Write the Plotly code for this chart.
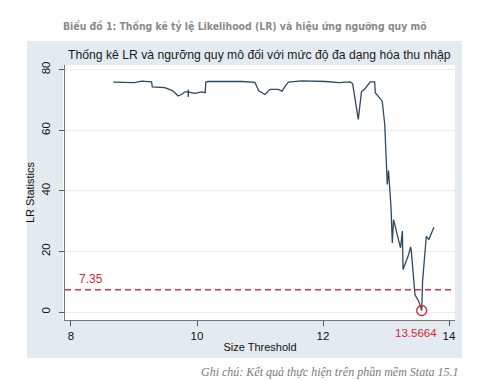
import plotly.graph_objects as go

threshold_x = [8.67, 8.85, 9.01, 9.12, 9.28, 9.29, 9.40, 9.49, 9.55, 9.60, 9.65, 9.70, 9.76,
               9.81, 9.855, 9.86, 9.862, 9.865, 9.97, 10.07, 10.13, 10.14, 10.18, 10.45,
               10.71, 10.92, 10.98, 11.08, 11.16, 11.29, 11.35, 11.40, 11.45, 11.66, 12.04,
               12.25, 12.43, 12.47, 12.56, 12.61, 12.67, 12.75, 12.82, 12.83, 12.91, 12.94,
               12.98, 13.02, 13.04, 13.08, 13.10, 13.12, 13.23, 13.26, 13.27, 13.36, 13.39,
               13.40, 13.46, 13.52, 13.5664, 13.58, 13.64, 13.68, 13.76]
lr_stat = [75.9, 75.8, 75.7, 76.2, 76.0, 74.3, 74.2, 74.1, 73.6, 73.2, 72.4, 71.3, 71.9,
           72.7, 72.7, 73.4, 71.0, 72.6, 72.2, 72.7, 72.4, 75.9, 76.1, 76.2,
           76.1, 75.8, 73.0, 71.8, 73.5, 73.5, 72.9, 74.6, 75.9, 76.3, 76.1,
           75.7, 76.0, 75.4, 63.6, 72.7, 73.8, 76.0, 76.0, 72.4, 70.5, 69.6,
           61.9, 42.1, 46.7, 34.4, 22.8, 30.5, 21.2, 26.7, 14.0, 19.0, 21.5,
           20.6, 5.7, 3.5, 0.5, 10.1, 25.0, 23.9, 28.0]

critical_value = 7.35
min_x = [13.5664]
min_y = [0.5]
x_ticks = [8, 10, 12, 14]
y_ticks = [0, 20, 40, 60, 80]

main_title = "Biểu đồ 1: Thống kê tỷ lệ Likelihood (LR) và hiệu ứng ngưỡng quy mô"
chart_title = "Thống kê LR và ngưỡng quy mô đối với mức độ đa dạng hóa thu nhập"
note = "Ghi chú: Kết quả thực hiện trên phần mềm Stata 15.1"

W, H = 499, 380
L, R, T, B = 57, 447, 57, 312  # plot area in pixels
PW, PH = R - L, B - T


def px(x):
    return (x - L) / PW


def py(y):
    return (B - y) / PH


RED = "#d22a3a"
DASH = "#c4375a"
LINE = "#2f4860"
PANEL = "#e4ebf0"
FONT = "Liberation Sans, Arial"

fig = go.Figure()
fig.add_trace(go.Scatter(x=threshold_x, y=lr_stat, mode="lines",
                         line=dict(color=LINE, width=1.3), hoverinfo="skip", showlegend=False))
fig.add_trace(go.Scatter(x=min_x, y=min_y, mode="markers",
                         marker=dict(symbol="circle-open", size=10, color=RED, line=dict(width=1.3, color=RED)),
                         showlegend=False))
fig.add_hline(y=critical_value, line=dict(color=DASH, width=1.5, dash="6px,4px"))

# grey graph panel, then white plot region
fig.add_shape(type="rect", xref="paper", yref="paper",
              x0=px(19), x1=px(454), y0=py(350), y1=py(33),
              fillcolor=PANEL, line=dict(width=0), layer="below")
fig.add_shape(type="rect", xref="paper", yref="paper",
              x0=px(55), x1=px(447), y0=py(312), y1=py(57),
              fillcolor="white", line=dict(width=0), layer="below")

fig.add_annotation(x=8.1, y=critical_value, text="7.35", showarrow=False,
                   xanchor="left", yanchor="bottom", yshift=2,
                   font=dict(family=FONT, size=12, color=RED))
fig.add_annotation(x=min_x[0], y=0, yref="paper", text="13.5664", showarrow=False,
                   xanchor="center", yanchor="top", xshift=-6, yshift=-5,
                   font=dict(family=FONT, size=11.5, color=RED))

fig.add_annotation(xref="paper", yref="paper", x=px(53), y=py(18), text=main_title,
                   showarrow=False, xanchor="left", yanchor="middle",
                   font=dict(family="Liberation Sans Narrow, DejaVu Sans Condensed, Roboto Condensed, Liberation Sans",
                             size=10.4, color="#8a8a8a", weight="bold"))
fig.add_annotation(xref="paper", yref="paper", x=px(251), y=py(47), text=chart_title,
                   showarrow=False, xanchor="center", yanchor="middle",
                   font=dict(family=FONT, size=12.2, color="#1a1a1a"))
fig.add_annotation(xref="paper", yref="paper", x=px(453), y=py(364), text=f"<i>{note}</i>",
                   showarrow=False, xanchor="right", yanchor="middle",
                   font=dict(family="Liberation Serif, Times New Roman", size=12, color="#7a7a7a"))

fig.update_layout(
    width=W, height=H,
    margin=dict(l=L, r=W - R, t=T, b=H - B),
    paper_bgcolor="white", plot_bgcolor="white",
    showlegend=False,
    xaxis=dict(range=[7.905, 14.095], tickvals=x_ticks, ticks="outside", ticklen=5,
               tickcolor="#555", showline=True, linecolor="#777", linewidth=1,
               showgrid=False, zeroline=False,
               tickfont=dict(family=FONT, size=11.5, color="#111"),
               title=dict(text="Size Threshold", standoff=2,
                          font=dict(family=FONT, size=11, color="#111"))),
    yaxis=dict(range=[-2.64, 81.55], tickvals=y_ticks, ticks="outside", ticklen=5,
               tickcolor="#555", showline=True, linecolor="#777", linewidth=1,
               showgrid=True, gridcolor="#eaeef1", gridwidth=1, zeroline=False,
               tickangle=-90, ticklabelstandoff=4,
               tickfont=dict(family=FONT, size=11.5, color="#111"),
               title=dict(text="LR Statistics", standoff=3,
                          font=dict(family=FONT, size=11, color="#111"))),
)

fig.write_html("out.html")
